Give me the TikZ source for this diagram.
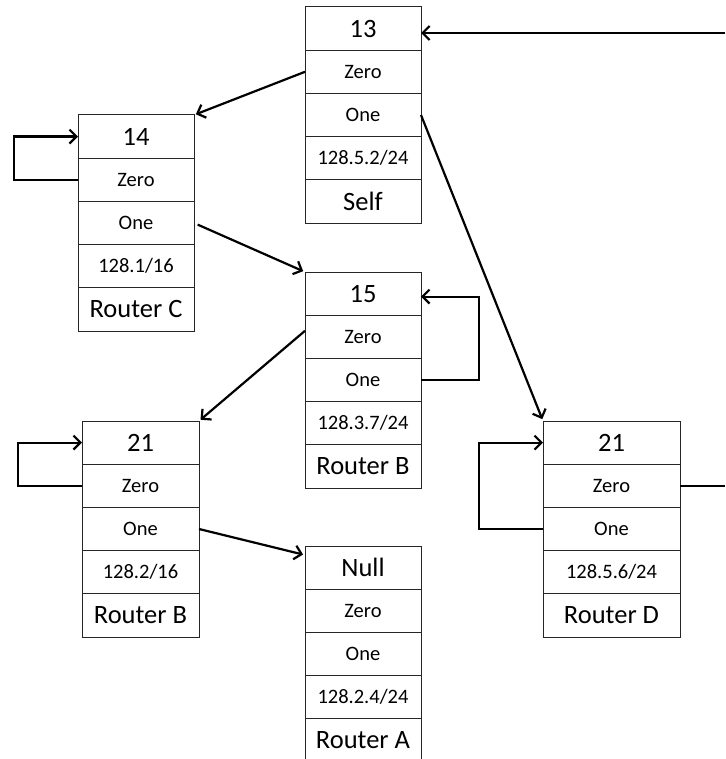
\documentclass[tikz,border=0pt]{standalone}
\usepackage{fontspec}
\setmainfont{Carlito}
\usetikzlibrary{arrows.meta,calc}

\tikzset{
  cell/.style={draw=black!85, line width=1pt, inner sep=0pt, outer sep=0pt,
               minimum height=43.2pt, align=center},
  bigtext/.style={font=\fontsize{26.5}{27}\selectfont},
  smalltext/.style={font=\fontsize{20.5}{21}\selectfont},
  link/.style={line width=2.2pt, -{Straight Barb[length=7pt,width=14pt]}},
  plainlink/.style={line width=2.2pt},
}

% One routing-table entry: five stacked cells
% #1 name, #2 top-left corner, #3 width, #4-#8 cell texts
\newcommand\routerbox[8]{%
  \node[cell, bigtext, minimum width=#3, anchor=north west] (#1-1) at (#2) {#4};
  \node[cell, smalltext, minimum width=#3, anchor=north] (#1-2) at (#1-1.south) {#5};
  \node[cell, smalltext, minimum width=#3, anchor=north] (#1-3) at (#1-2.south) {#6};
  \node[cell, smalltext, minimum width=#3, anchor=north] (#1-4) at (#1-3.south) {#7};
  \node[cell, bigtext, minimum width=#3, anchor=north] (#1-5) at (#1-4.south) {#8};
}

\begin{document}
\begin{tikzpicture}[x=1pt, y=-1pt]
  \useasboundingbox (0,0) rectangle (725,759);
  \clip (0,0) rectangle (725,759);

  \routerbox{self}{305,7}{116pt}{13}{Zero}{One}{128.5.2/24}{Self}
  \routerbox{rc}{78,115}{116pt}{14}{Zero}{One}{128.1/16}{Router C}
  \routerbox{rb}{305,272}{116pt}{15}{Zero}{One}{128.3.7/24}{Router B}
  \routerbox{rbb}{82,421}{117pt}{21}{Zero}{One}{128.2/16}{Router B}
  \routerbox{ra}{305,546}{116pt}{Null}{Zero}{One}{128.2.4/24}{Router A}
  \routerbox{rd}{543,421}{137pt}{21}{Zero}{One}{128.5.6/24}{Router D}

  % links leaving the picture
  \coordinate (inself) at (725,33);
  \coordinate (outrd) at (725,486);

  \draw[link] (inself) -- (self-1.east |- inself);
  \draw[link, shorten >=2pt] (self-2.west) -- (rc-1.north east);
  \draw[link, shorten >=2pt] (self-3.east) -- (rd-1.north west);

  \draw[link] (rc-2.west) -- ++(-64,0) |- (rc-1.west);
  \draw[link, shorten <=4pt, shorten >=2pt] (rc-3.east) -- (rb-1.north west);

  \draw[link] (rb-3.east) -- ++(58,0) |- ($(rb-1.east)+(0,3)$);
  \draw[link, shorten >=2pt] ($(rb-2.west)+(0,-6)$) -- (rbb-1.north east);

  \draw[link] (rbb-2.west) -- ++(-64,0) |- (rbb-1.west);
  \draw[link, shorten >=2pt] (rbb-3.east) -- ($(ra-1.north west)+(0,9)$);

  \draw[link] (rd-3.west) -- ++(-64,0) |- (rd-1.west);
  \draw[plainlink] (rd-2.east) -- (rd-2.east -| outrd);
\end{tikzpicture}
\end{document}
